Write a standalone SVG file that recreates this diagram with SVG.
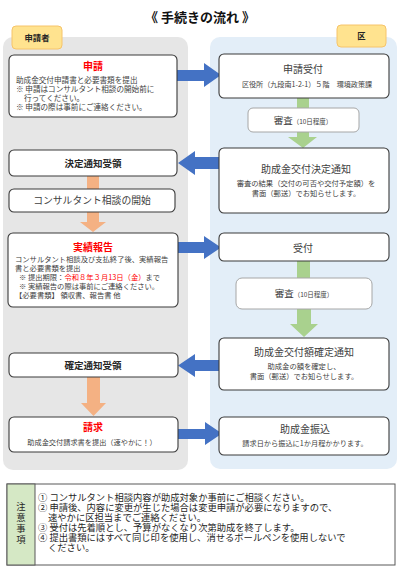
<svg xmlns="http://www.w3.org/2000/svg" width="400" height="577" viewBox="0 0 400 577">
<style>
text{font-family:"Noto Sans CJK JP","Noto Sans CJK SC",sans-serif;fill:#404040}
.box{fill:#fff;stroke:#3a3a3a;stroke-width:1.1}
.sbox{fill:#fff;stroke:#a6a6a6;stroke-width:1}
.tab{fill:#FFE38F;stroke:#F6C46A;stroke-width:1}
.ttl{font-size:10px;text-anchor:middle}
.bold{font-weight:bold;fill:#262626}
.red{font-weight:bold;fill:#FF0000;font-size:10px;text-anchor:middle}
.sm{font-size:7.6px}
.smc{font-size:7.3px;text-anchor:middle}
.blue{fill:#4472C4}
.green{fill:#A9D18E}
.orange{fill:#F4B183}
.note{font-size:9.3px;fill:#262626}
</style>
<rect width="400" height="577" fill="#fff"/>
<text x="200" y="22" font-size="13" font-weight="bold" text-anchor="middle" style="fill:#111">《 手続きの流れ 》</text>
<g id="panels">
<rect x="3" y="37" width="185" height="433" rx="10" fill="#E6E6E6"/>
<rect x="210" y="37" width="187" height="432" rx="10" fill="#E3EEF8"/>
</g>
<g id="tab-applicant"><rect class="tab" x="12" y="26" width="50" height="23" rx="4"/><text x="37" y="40.5" font-size="8.3" text-anchor="middle" class="bold">申請者</text></g>
<g id="tab-ward"><rect class="tab" x="337" y="25" width="49" height="22" rx="4"/><text x="361.5" y="39" font-size="8.3" text-anchor="middle" class="bold">区</text></g>
<g id="connectors">
<polygon class="blue" points="176,70 204,70 204,63 221,75 204,87 204,81 176,81"/>
<polygon class="blue" points="220,157 195,157 195,151 178,163 195,175 195,169 220,169"/>
<polygon class="blue" points="177,242 204,242 204,236 221,247.5 204,259 204,253 177,253"/>
<polygon class="blue" points="220,360 195,360 195,354 178,365.5 195,377 195,371 220,371"/>
<polygon class="blue" points="177,429 205,429 205,422 222,433.5 205,445 205,439 177,439"/>
<rect class="green" x="297" y="97" width="12" height="12"/>
<polygon class="green" points="297,131 309,131 309,137 317,137 303,148 288,137 297,137"/>
<rect class="green" x="297" y="260" width="13" height="19"/>
<polygon class="green" points="297,308 311,308 311,324 318,324 304,337 290,324 297,324"/>
<rect class="orange" x="87" y="175" width="12" height="15"/>
<polygon class="orange" points="87,211 99,211 99,222 106,222 93,232 80,222 87,222"/>
<polygon class="orange" points="87,376 100,376 100,403 106,403 93.5,416 81,403 87,403"/>
</g>
<g id="n-shinsei">
<rect class="box" x="9" y="55" width="168" height="62" rx="5"/>
<text x="93" y="70" class="red">申請</text>
<text x="16" y="83" class="sm">助成金交付申請書と必要書類を提出</text>
<text x="16" y="92" class="sm">※ 申請はコンサルタント相談の開始前に</text>
<text x="24" y="101" class="sm">行ってください。</text>
<text x="16" y="110" class="sm">※ 申請の際は事前にご連絡ください。</text>
</g>
<g id="n-uketsuke1">
<rect class="box" x="219" y="54" width="170" height="44" rx="5"/>
<text x="303" y="73" class="ttl">申請受付</text>
<text x="307" y="86.5" class="smc" style="font-size:7.1px">区役所（九段南1-2-1）５階　環境政策課</text>
</g>
<g id="n-shinsa1">
<rect class="sbox" x="248" y="108" width="111" height="24" rx="5"/>
<text x="303" y="123.5" text-anchor="middle"><tspan font-size="9.5">審査</tspan><tspan font-size="6.5">（10日程度）</tspan></text>
</g>
<g id="n-kettei-tsuchi">
<rect class="box" x="219" y="148" width="170" height="65" rx="5"/>
<text x="306" y="172.5" class="ttl">助成金交付決定通知</text>
<text x="306" y="186" class="smc">審査の結果（交付の可否や交付予定額）を</text>
<text x="306" y="195.5" class="smc">書面（郵送）でお知らせします。</text>
</g>
<g id="n-kettei-juryo">
<rect class="box" x="9" y="150" width="168" height="26" rx="5"/>
<text x="93" y="167" class="bold" font-size="9.5" text-anchor="middle">決定通知受領</text>
</g>
<g id="n-consult">
<rect class="box" x="9" y="189" width="166" height="23" rx="5"/>
<text x="92" y="204" font-size="9.8" text-anchor="middle">コンサルタント相談の開始</text>
</g>
<g id="n-jisseki">
<rect class="box" x="8" y="233" width="170" height="74" rx="5"/>
<text x="93" y="250.5" class="red">実績報告</text>
<text x="15" y="262" class="sm" style="font-size:7.3px">コンサルタント相談及び支払終了後、実績報告</text>
<text x="15" y="271" class="sm" style="font-size:7.3px">書と必要書類を提出</text>
<text x="19" y="280" class="sm" style="font-size:7.3px">※ 提出期限：<tspan style="fill:#FF0000">令和８年３月13日（金）</tspan>まで</text>
<text x="19" y="289" class="sm" style="font-size:7.3px">※ 実績報告の際は事前にご連絡ください。</text>
<text x="15" y="298" class="sm" style="font-size:7.3px">【必要書類】 領収書、報告書 他</text>
</g>
<g id="n-uketsuke2">
<rect class="box" x="219" y="233" width="170" height="28" rx="5"/>
<text x="303" y="251.5" class="ttl">受付</text>
</g>
<g id="n-shinsa2">
<rect class="sbox" x="236" y="278" width="136" height="31" rx="6"/>
<text x="304" y="296.5" text-anchor="middle"><tspan font-size="9.5">審査</tspan><tspan font-size="6.5">（10日程度）</tspan></text>
</g>
<g id="n-kakutei-tsuchi">
<rect class="box" x="219" y="338" width="170" height="52" rx="5"/>
<text x="304" y="355.5" class="ttl">助成金交付額確定通知</text>
<text x="304" y="369" class="smc">助成金の額を確定し、</text>
<text x="304" y="378.5" class="smc">書面（郵送）でお知らせします。</text>
</g>
<g id="n-kakutei-juryo">
<rect class="box" x="9" y="353" width="169" height="24" rx="5"/>
<text x="93" y="369" class="bold" font-size="9.5" text-anchor="middle">確定通知受領</text>
</g>
<g id="n-seikyu">
<rect class="box" x="9" y="417" width="169" height="35" rx="5"/>
<text x="93" y="431" class="red">請求</text>
<text x="92" y="445" class="smc" style="font-size:7.2px">助成金交付請求書を提出（速やかに！）</text>
</g>
<g id="n-furikomi">
<rect class="box" x="219" y="417" width="170" height="38" rx="5"/>
<text x="305" y="432.5" class="ttl">助成金振込</text>
<text x="305" y="446" class="smc" style="font-size:7.2px">請求日から振込に1か月程かかります。</text>
</g>
<g id="notes">
<rect x="7" y="484" width="388" height="81" fill="#fff" stroke="#595959" stroke-width="1"/>
<rect x="7" y="484" width="28" height="81" fill="#D5E8C5" stroke="#595959" stroke-width="1"/>
<text x="21" y="510" class="note" text-anchor="middle">注</text>
<text x="21" y="521" class="note" text-anchor="middle">意</text>
<text x="21" y="532" class="note" text-anchor="middle">事</text>
<text x="21" y="543" class="note" text-anchor="middle">項</text>
<text x="38" y="501" class="note">① コンサルタント相談内容が助成対象か事前にご相談ください。</text>
<text x="38" y="511" class="note">② 申請後、内容に変更が生じた場合は変更申請が必要になりますので、</text>
<text x="48" y="521" class="note">速やかに区担当までご連絡ください。</text>
<text x="38" y="531" class="note">③ 受付は先着順とし、予算がなくなり次第助成を終了します。</text>
<text x="38" y="541" class="note">④ 提出書類にはすべて同じ印を使用し、消せるボールペンを使用しないで</text>
<text x="48" y="551" class="note">ください。</text>
</g>
</svg>
